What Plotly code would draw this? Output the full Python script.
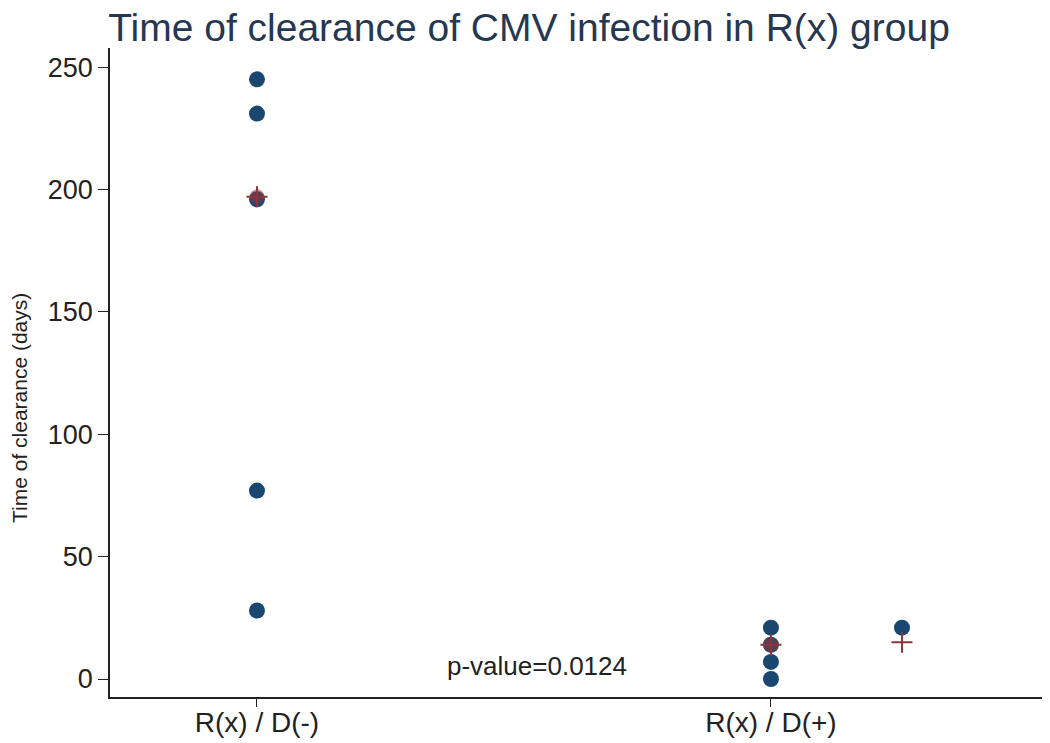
import plotly.graph_objects as go

categories = ["R(x) / D(-)", "R(x) / D(+)"]
cat_pos = [1, 2]
g1_x = [1, 1, 1, 1, 1]
g1_y = [245, 231, 196, 77, 28]
g2_x = [2, 2, 2, 2]
g2_y = [21, 14, 7, 0]
g3_x = [2.255]
g3_y = [21]
med_x = [1, 2, 2.255]
med_y = [197, 14, 15]
y_ticks = [0, 50, 100, 150, 200, 250]
pval_text = "p-value=0.0124"
y_title = "Time of clearance (days)"
title_text = "Time of clearance of CMV infection in R(x) group"

navy = "#1a476f"
maroon = "#90353b"
FONT = "Liberation Sans, Arial, sans-serif"

fig = go.Figure()
fig.add_trace(go.Scatter(x=g1_x + g2_x + g3_x, y=g1_y + g2_y + g3_y, mode="markers",
                         marker=dict(color=navy, size=16, line=dict(width=0)), showlegend=False))
fig.add_trace(go.Scatter(x=med_x[:2], y=med_y[:2], mode="markers",
                         marker=dict(color="rgba(144,53,59,0.55)", size=15, line=dict(width=0)), showlegend=False))
fig.add_trace(go.Scatter(x=med_x, y=med_y, mode="markers",
                         marker=dict(symbol="cross-thin", color=maroon, size=15,
                                     line=dict(color=maroon, width=2)), showlegend=False))

fig.add_annotation(x=1.545, y=5.5, text=pval_text, showarrow=False,
                   font=dict(family=FONT, size=26, color="#222"))
fig.add_annotation(x=-0.097, y=0.445, xref="paper", yref="paper", text=y_title, textangle=-90,
                   showarrow=False, xanchor="center", yanchor="middle",
                   font=dict(family=FONT, size=21, color="#222"))

fig.update_layout(
    width=1042, height=735,
    margin=dict(l=102, r=0, t=40, b=46),
    paper_bgcolor="white", plot_bgcolor="white",
    title=dict(text=title_text, x=521 / 1042, xanchor="center",
               y=1 - 19 / 735, yanchor="middle", automargin=False,
               font=dict(family=FONT, size=39, color="#263752")),
    font=dict(family=FONT, color="#222"),
)
fig.update_xaxes(range=[0.714, 2.543], tickvals=cat_pos, ticktext=categories, automargin=False,
                 showline=True, linecolor="#222", linewidth=1.5, ticks="outside", ticklen=8,
                 ticklabelstandoff=-8,
                 tickcolor="#222", showgrid=False, zeroline=False, tickfont=dict(size=28))
fig.update_yaxes(range=[-7.34, 257.8], tickvals=y_ticks, showline=True, linecolor="#222", linewidth=1.5,
                 automargin=False, ticks="outside", ticklen=10, tickcolor="#222", showgrid=False,
                 zeroline=False, tickfont=dict(size=27))

fig.write_html("out.html")
